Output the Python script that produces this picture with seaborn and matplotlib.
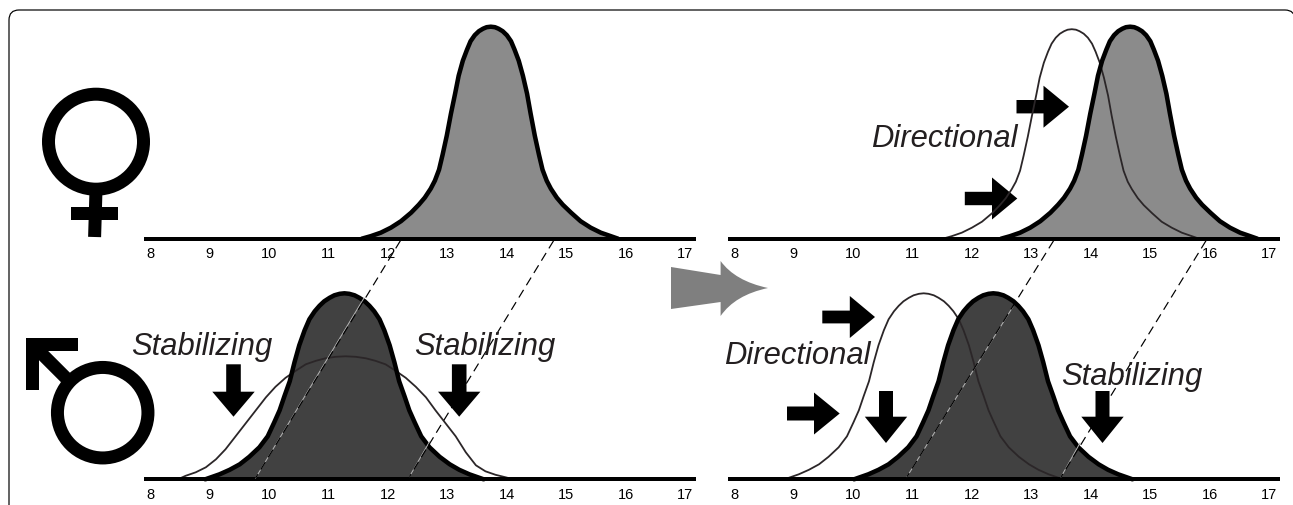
import matplotlib
matplotlib.use("Agg")
import matplotlib.pyplot as plt
import seaborn as sns
from matplotlib.patches import Ellipse, PathPatch, Polygon, Rectangle
from matplotlib.path import Path

# x = trait value, y = height of the distribution above the baseline
tick_values = [8, 9, 10, 11, 12, 13, 14, 15, 16, 17]

female_x = [11.56, 11.71, 11.88, 12.05, 12.22, 12.39, 12.52, 12.62, 12.72, 12.79, 12.86, 12.92, 12.99, 13.06, 13.13,
            13.19, 13.26, 13.33, 13.39, 13.46, 13.53, 13.60, 13.66, 13.73, 13.80, 13.86, 13.93, 14.00, 14.07, 14.13,
            14.20, 14.27, 14.34, 14.40, 14.47, 14.54, 14.60, 14.67, 14.74, 14.84, 14.94, 15.08, 15.24, 15.41, 15.58,
            15.75, 15.87]
female_y = [0, 2.5, 6, 11, 17.5, 26, 34, 41, 50, 58, 69, 84, 103, 125, 145,
            163, 178, 189, 197.5, 203.5, 207.5, 210, 211.5, 212, 211.5, 210, 207.5, 203.5, 197.5, 189,
            178, 163, 145, 125, 103, 84, 69, 58, 50, 41, 34, 26, 17.5, 11, 6,
            2.5, 0]

female_new_x = [12.49, 12.64, 12.81, 12.98, 13.15, 13.32, 13.45, 13.55, 13.65, 13.72, 13.79, 13.85, 13.92, 13.99, 14.06,
                14.12, 14.19, 14.26, 14.32, 14.39, 14.46, 14.53, 14.59, 14.66, 14.73, 14.79, 14.86, 14.93, 15.00, 15.06,
                15.13, 15.20, 15.27, 15.33, 15.40, 15.47, 15.53, 15.60, 15.67, 15.77, 15.87, 16.01, 16.17, 16.34, 16.51,
                16.68, 16.80]
female_new_y = female_y

female_old_x = [11.51, 11.66, 11.83, 12.00, 12.17, 12.34, 12.47, 12.57, 12.67, 12.74, 12.81, 12.87, 12.94, 13.01, 13.08,
                13.14, 13.21, 13.28, 13.34, 13.41, 13.48, 13.55, 13.61, 13.68, 13.75, 13.81, 13.88, 13.95, 14.02, 14.08,
                14.15, 14.22, 14.29, 14.35, 14.42, 14.49, 14.55, 14.62, 14.69, 14.79, 14.89, 15.03, 15.19, 15.36, 15.53,
                15.70, 15.82]
female_old_y = [0, 2.5, 6, 11, 17, 25.5, 33.5, 40.5, 49.5, 57, 68, 83, 102, 123, 143,
                161, 176, 187, 195, 201, 205, 207.5, 209, 209.5, 209, 207.5, 205, 201, 195, 187,
                176, 161, 143, 123, 102, 83, 68, 57, 49.5, 40.5, 33.5, 25.5, 17, 11, 6,
                2.5, 0]

male_x = [8.93, 9.05, 9.17, 9.34, 9.51, 9.67, 9.84, 9.98, 10.09, 10.18, 10.26, 10.35, 10.43, 10.51, 10.60,
          10.68, 10.77, 10.85, 10.93, 11.02, 11.10, 11.19, 11.27, 11.35, 11.44, 11.52, 11.61, 11.69, 11.77, 11.86,
          11.94, 12.03, 12.11, 12.19, 12.28, 12.36, 12.45, 12.56, 12.70, 12.87, 13.04, 13.20, 13.37, 13.49, 13.61]
male_y = [0, 2.5, 5, 9.5, 15, 22.5, 32, 43, 57, 69, 83, 98, 117, 134, 149,
          160, 168, 173.5, 178, 181.5, 184, 185.5, 186, 185.5, 184, 181.5, 178, 173.5, 168, 160,
          149, 134, 117, 98, 83, 69, 57, 43, 32, 22.5, 15, 9.5, 5, 2.5, 0]

male_wide_x = [8.47, 8.60, 8.77, 8.94, 9.11, 9.27, 9.44, 9.61, 9.78, 9.95, 10.11, 10.28, 10.45, 10.62, 10.79, 10.95,
               11.12, 11.29, 11.46, 11.63, 11.79, 11.96, 12.13, 12.30, 12.47, 12.64, 12.80, 12.97, 13.14, 13.31,
               13.48, 13.64, 13.81, 13.98, 14.11]
male_wide_y = [0, 3.5, 7, 12, 20, 30, 43, 56, 69, 82, 92.5, 101.5, 108.5, 115, 118.5, 121,
               122.5, 123, 122.5, 121, 118.5, 115, 108.5, 101.5, 92.5, 82, 69, 56, 43, 27,
               14, 8, 4.5, 2, 0]

male_new_x = [10.02, 10.14, 10.26, 10.43, 10.60, 10.76, 10.93, 11.07, 11.18, 11.27, 11.35, 11.44, 11.52, 11.60, 11.69,
              11.77, 11.86, 11.94, 12.02, 12.11, 12.19, 12.28, 12.36, 12.44, 12.53, 12.61, 12.70, 12.78, 12.86, 12.95,
              13.03, 13.12, 13.20, 13.28, 13.37, 13.45, 13.54, 13.65, 13.79, 13.96, 14.13, 14.29, 14.46, 14.58, 14.70]
male_new_y = male_y

male_old_x = [8.85, 8.97, 9.09, 9.26, 9.43, 9.59, 9.76, 9.90, 10.01, 10.10, 10.18, 10.27, 10.35, 10.43, 10.52,
              10.60, 10.69, 10.77, 10.85, 10.94, 11.02, 11.11, 11.19, 11.27, 11.36, 11.44, 11.53, 11.61, 11.69, 11.78,
              11.86, 11.95, 12.03, 12.11, 12.20, 12.28, 12.37, 12.48, 12.62, 12.79, 12.96, 13.12, 13.29, 13.41, 13.53]
male_old_y = male_y

LIGHT_FILL = "#8b8b8b"
DARK_FILL = "#414141"
THIN_LINE = "#2b2628"
TEXT_COLOR = "#231f20"

W, H = 1293, 505
px = 72 / 100  # line widths are worked out in pixels


def panel(rect, fill_x, fill_y, color, thin_x=None, thin_y=None):
    left, baseline = rect
    ax = fig.add_axes([left / W, 1 - baseline / H, 552 / W, 215 / H], zorder=2)
    ax.patch.set_alpha(0)
    ax.fill_between(fill_x, fill_y, 0, color=color, lw=0)
    if thin_x is not None:
        sns.lineplot(x=thin_x, y=thin_y, sort=False, estimator=None, color=THIN_LINE, lw=1.8 * px, ax=ax)
    sns.lineplot(x=fill_x, y=fill_y, sort=False, estimator=None, color="black", lw=4.5 * px, ax=ax)
    for line in ax.lines:
        line.set_clip_on(False)
    ax.set_xlim(7.9, 17.18)
    ax.set_ylim(0, 215)
    ax.set_xticks(tick_values)
    ax.set_yticks([])
    ax.tick_params(axis="x", length=0, pad=6, labelsize=10.5, labelcolor="black")
    sns.despine(ax=ax, left=True)
    ax.spines["bottom"].set_linewidth(4 * px)
    ax.spines["bottom"].set_color("black")
    ax.spines["bottom"].set_capstyle("butt")
    return ax


def overlay(zorder):
    ax = fig.add_axes([0, 0, 1, 1], zorder=zorder)
    ax.patch.set_alpha(0)
    ax.set_xlim(0, W)
    ax.set_ylim(H, 0)
    ax.axis("off")
    return ax


def down_arrow(ax, cx, stem, head_half, top, neck, tip):
    pts = [(cx - stem, top), (cx + stem, top), (cx + stem, neck), (cx + head_half, neck), (cx, tip),
           (cx - head_half, neck), (cx - stem, neck)]
    ax.add_patch(Polygon(pts, closed=True, fc="black", ec="none"))


def right_arrow(ax, cy, stem, head_half, left, neck, tip):
    pts = [(left, cy - stem), (neck, cy - stem), (neck, cy - head_half), (tip, cy), (neck, cy + head_half),
           (neck, cy + stem), (left, cy + stem)]
    ax.add_patch(Polygon(pts, closed=True, fc="black", ec="none"))


sns.set_theme(style="white")
plt.rcParams["font.family"] = ["Liberation Sans", "DejaVu Sans"]

fig = plt.figure(figsize=(W / 100, H / 100), dpi=100)
back = overlay(1)
front = overlay(3)

panel((144, 238.7), female_x, female_y, LIGHT_FILL)
panel((728, 238.7), female_new_x, female_new_y, LIGHT_FILL, female_old_x, female_old_y)
panel((144, 479.3), male_x, male_y, DARK_FILL, male_wide_x, male_wide_y)
panel((728, 479.3), male_new_x, male_new_y, DARK_FILL, male_old_x, male_old_y)

# frame, open at the bottom, right side runs off the picture
frame = Path([(9, 505), (9, 20), (9, 10), (19, 10), (1285, 10), (1295, 10), (1295, 20)],
             [Path.MOVETO, Path.LINETO, Path.CURVE3, Path.CURVE3, Path.LINETO, Path.CURVE3, Path.CURVE3])
back.add_patch(PathPatch(frame, fc="none", ec="black", lw=1.2 * px))

# female symbol
back.add_patch(Ellipse((96, 141.7), 95, 95, fc="none", ec="black", lw=13 * px))
back.plot([96, 94.6], [190, 237], color="black", lw=13 * px, solid_capstyle="butt")
back.add_patch(Rectangle((70.5, 207), 47.8, 13, fc="black", ec="none"))

# male symbol
back.add_patch(Ellipse((102.7, 412.7), 90.5, 90.5, fc="none", ec="black", lw=13 * px))
back.add_patch(Rectangle((26, 338), 52, 13, fc="black", ec="none"))
back.add_patch(Rectangle((26, 338), 13, 52, fc="black", ec="none"))
back.plot([33, 69], [345, 381], color="black", lw=13 * px, solid_capstyle="butt")

# big arrow between the columns
big = Path([(671, 267), (720.6, 275), (720.6, 261), (735, 281), (768, 288), (735, 295), (720.6, 316),
            (720.6, 302), (671, 309), (671, 267)],
           [Path.MOVETO, Path.LINETO, Path.LINETO, Path.CURVE3, Path.CURVE3, Path.CURVE3, Path.CURVE3,
            Path.LINETO, Path.LINETO, Path.CLOSEPOLY])
back.add_patch(PathPatch(big, fc="#7f7f7f", ec="none"))

# selection arrows
down_arrow(back, 233.5, 7.3, 21.2, 364.3, 391.7, 416.7)
down_arrow(back, 459.2, 7.3, 21.2, 364.3, 391.7, 416.7)
down_arrow(back, 886, 7, 21.2, 391, 416.7, 443)
down_arrow(back, 1102.5, 7, 21.2, 391, 416.7, 443)
right_arrow(back, 106.7, 6.7, 21, 1016.5, 1043.5, 1069)
right_arrow(back, 198.5, 6.7, 21, 964.8, 992, 1017.3)
right_arrow(back, 317, 6.4, 21, 822.3, 849.8, 875)
right_arrow(back, 413.5, 7, 21, 787, 814, 839.7)

# dashed guides, a pale core where they cross the dark fill
for x0, y0, x1, y1 in [(255.4, 478.3, 364, 298), (409.4, 476.7, 429.5, 441.7),
                       (907, 476.7, 1013, 306.7), (1061, 477, 1080, 443)]:
    front.plot([x0, x1], [y0, y1], color="#b5b5b5", lw=1 * px)
for x0, y0, x1, y1 in [(400.4, 240.7, 255.4, 478.3), (553.6, 240.7, 409.4, 476.7),
                       (1053.6, 240.7, 907, 476.7), (1206, 240.7, 1061, 477)]:
    front.plot([x0, x1], [y0, y1], color="black", lw=1.2 * px, dashes=(7.5, 4.5))

for label, x, y in [("Stabilizing", 131, 355.5), ("Stabilizing", 414, 355.5), ("Stabilizing", 1061, 384.5),
                    ("Directional", 871, 147), ("Directional", 724, 364.5)]:
    front.text(x, y, label, fontsize=22.3, style="italic", color=TEXT_COLOR, ha="left", va="baseline")

fig.savefig("out.png", dpi=100, facecolor="white")
